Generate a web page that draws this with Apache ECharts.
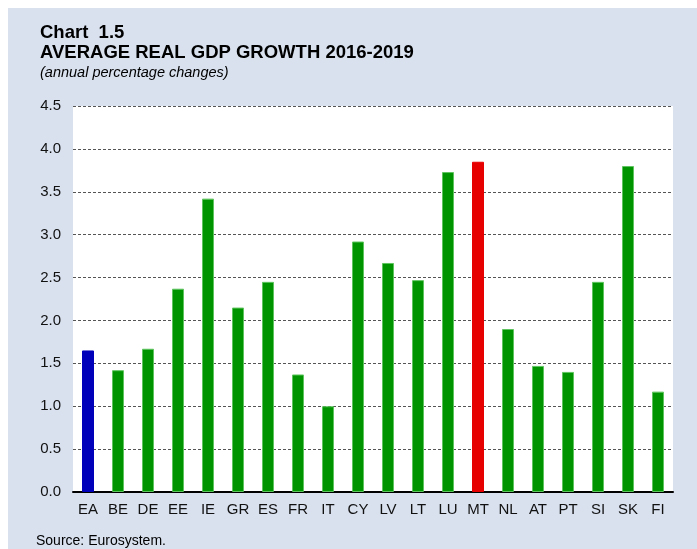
<!DOCTYPE html>
<html>
<head>
<meta charset="utf-8">
<script src="https://cdn.jsdelivr.net/npm/echarts@6/dist/echarts.min.js"></script>
<style>
  html, body { margin: 0; padding: 0; background: #fff; }
  #chart { width: 697px; height: 549px; }
</style>
</head>
<body>
<div id="chart"></div>
<script>
const categories = ['EA', 'BE', 'DE', 'EE', 'IE', 'GR', 'ES', 'FR', 'IT', 'CY', 'LV', 'LT', 'LU', 'MT', 'NL', 'AT', 'PT', 'SI', 'SK', 'FI'];
const growth = [1.65, 1.42, 1.67, 2.37, 3.42, 2.15, 2.45, 1.37, 1.00, 2.92, 2.67, 2.47, 3.73, 3.85, 1.90, 1.47, 1.40, 2.45, 3.80, 1.17];
const yTicks = ['0.0', '0.5', '1.0', '1.5', '2.0', '2.5', '3.0', '3.5', '4.0', '4.5'];

const barColor = {
    EA: '#0000bb',
    MT: '#e60000'
};

const chart = echarts.init(document.getElementById('chart'));

const font = 'Liberation Sans, Arial, sans-serif';

const option = {
    animation: false,
    textStyle: { fontFamily: font },
    graphic: [
        {
            type: 'rect',
            z: -10,
            shape: { x: 8, y: 8, width: 697, height: 549 },
            style: { fill: '#d9e1ef' }
        },
        {
            type: 'text', left: 40, top: 23,
            style: { text: 'Chart  1.5', fontSize: 18.5, fontWeight: 'bold', fill: '#000', fontFamily: font }
        },
        {
            type: 'text', left: 40, top: 43,
            style: { text: 'AVERAGE REAL GDP GROWTH 2016-2019', fontSize: 18.5, fontWeight: 'bold', fill: '#000', fontFamily: font }
        },
        {
            type: 'text', left: 40, top: 65,
            style: { text: '(annual percentage changes)', fontSize: 14.5, fontStyle: 'italic', fill: '#000', fontFamily: font }
        },
        {
            type: 'text', left: 36, top: 534,
            style: { text: 'Source: Eurosystem.', fontSize: 14, fill: '#000', fontFamily: font }
        }
    ],
    grid: {
        left: 73,
        right: 24,
        top: 106,
        bottom: 57,
        show: true,
        backgroundColor: '#fff',
        borderWidth: 0
    },
    xAxis: {
        type: 'category',
        data: categories,
        axisLine: { lineStyle: { color: '#000', width: 2 } },
        axisTick: { show: false },
        axisLabel: { color: '#111', fontSize: 15, margin: 10 }
    },
    yAxis: {
        type: 'value',
        min: 0,
        max: 4.5,
        interval: 0.5,
        axisLine: { show: false },
        axisTick: { show: false },
        axisLabel: {
            color: '#111',
            fontSize: 15,
            margin: 12,
            formatter: (v) => yTicks[Math.round(v / 0.5)]
        },
        splitLine: { lineStyle: { color: '#555', type: [3, 2], width: 1 } }
    },
    series: [{
        type: 'bar',
        barWidth: '40%',
        data: growth.map((v, i) => ({
            value: v,
            itemStyle: {
                color: barColor[categories[i]] || '#009400',
                borderColor: barColor[categories[i]] || '#5ec45e',
                borderWidth: 1
            }
        }))
    }]
};

chart.setOption(option);
</script>
</body>
</html>
